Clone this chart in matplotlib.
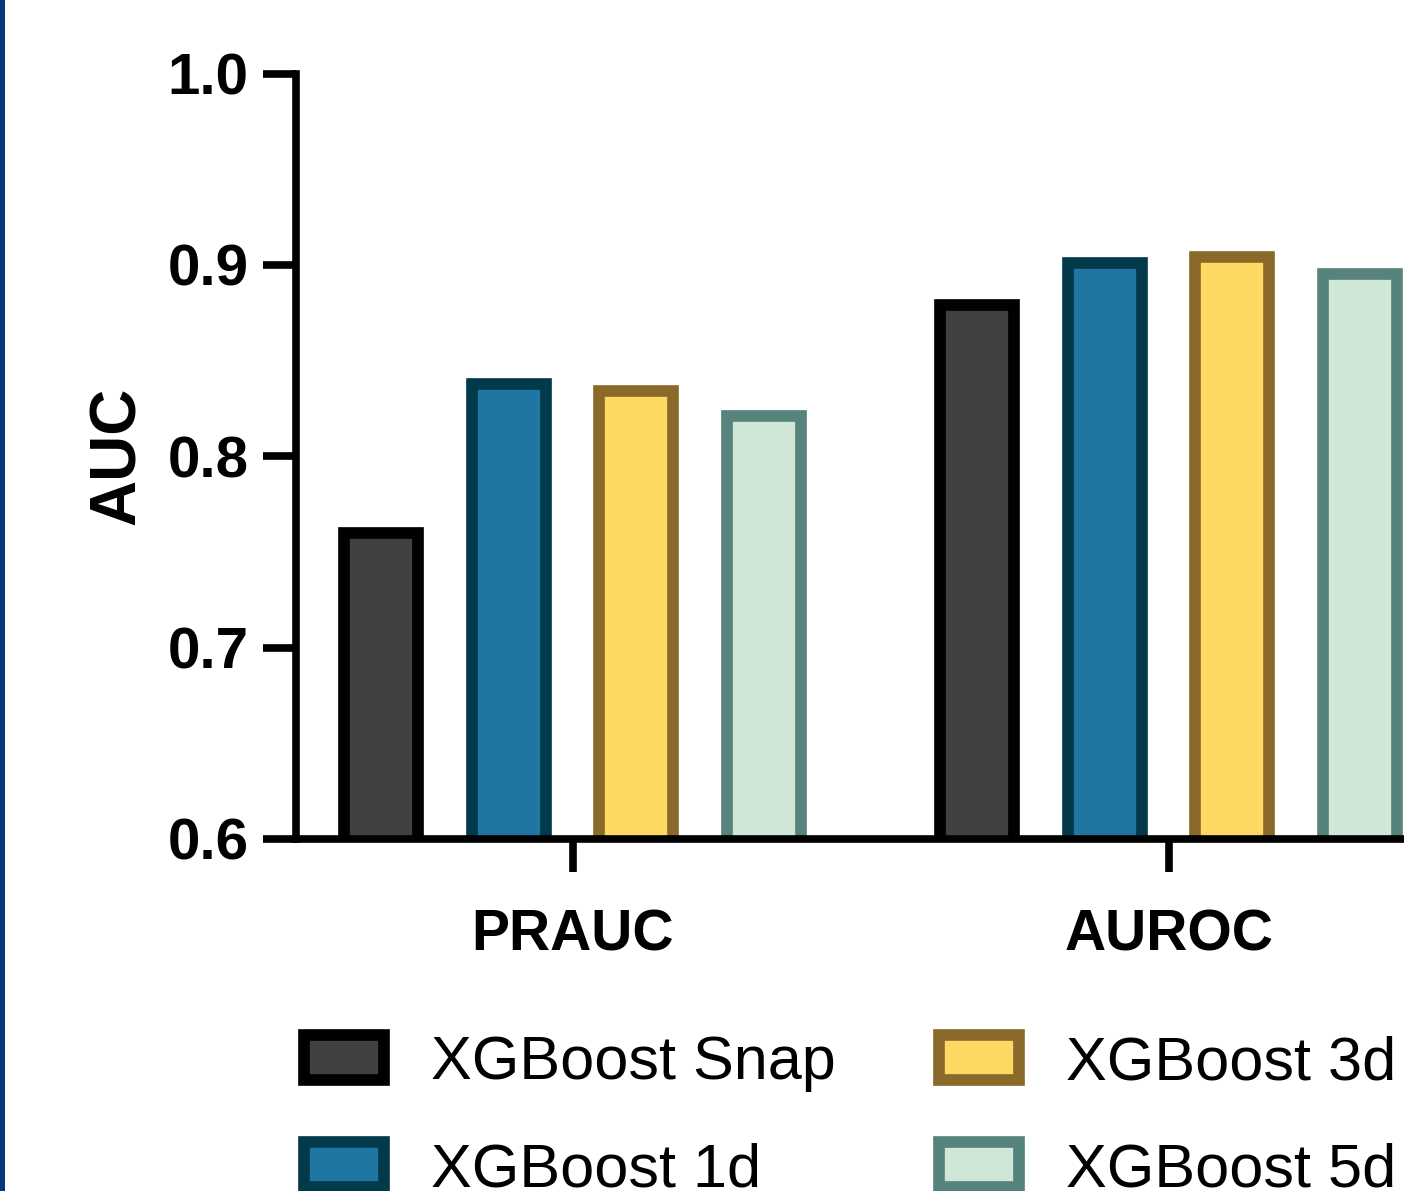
import numpy as np
import matplotlib
matplotlib.use('Agg')
import matplotlib.pyplot as plt
from matplotlib.patches import Rectangle

# ========== Data ==========
metrics = ['PRAUC', 'AUROC']
models = ['XGBoost Snap', 'XGBoost 1d', 'XGBoost 3d', 'XGBoost 5d']
scores = {
    'XGBoost Snap': [0.760, 0.879],
    'XGBoost 1d': [0.838, 0.901],
    'XGBoost 3d': [0.834, 0.904],
    'XGBoost 5d': [0.821, 0.895],
}
y_ticks = [0.6, 0.7, 0.8, 0.9, 1.0]

fills = ['#404040', '#1f76a3', '#fdd862', '#d0e6d6']
edges = ['#000000', '#023a4c', '#8a6a2b', '#56837c']

plt.rcParams['font.family'] = ['Liberation Sans', 'DejaVu Sans']

W, H = 1404, 1191
fig = plt.figure(figsize=(W / 100, H / 100), dpi=100)
ax = fig.add_axes([296 / W, 1 - 839 / H, 1 - 296 / W, (839 - 73.5) / H])

# ========== Bars ==========
x = np.arange(len(metrics))
step = 0.214
bw = 0.124
for i, m in enumerate(models):
    ax.bar(x + (i - 1.5) * step, scores[m], width=bw, color=fills[i],
           edgecolor=edges[i], linewidth=8.4, label=m)

ax.set_xlim(-0.464, 1.395)
ax.set_ylim(0.6, 1.0)
ax.set_yticks(y_ticks)
ax.set_yticklabels([f'{v:.1f}' for v in y_ticks], fontsize=42, fontweight='bold')
ax.set_xticks(x)
ax.set_xticklabels(metrics, fontsize=41, fontweight='bold')
ax.set_ylabel('AUC', fontsize=46, fontweight='bold')
ax.yaxis.set_label_coords(-0.134, 0.5)

for s in ['top', 'right']:
    ax.spines[s].set_visible(False)
for s in ['left', 'bottom']:
    ax.spines[s].set_linewidth(5.5)
ax.tick_params(axis='both', length=24, width=5.5, direction='out', color='black')
ax.tick_params(axis='y', pad=10)
ax.tick_params(axis='x', pad=26)

# ========== Legend ==========
fig.legend(loc='upper left', bbox_to_anchor=(304 / W, 1 - 1035 / H), ncol=2,
           frameon=False, fontsize=44, handlelength=1.31, handleheight=0.757,
           handletextpad=0.77, columnspacing=1.69, labelspacing=0.82,
           borderpad=0, borderaxespad=0)

# thin blue border line at the left edge
fig.patches.append(Rectangle((0, 0), 5 / W, 1, transform=fig.transFigure,
                             facecolor='#08367f', edgecolor='none'))

fig.savefig('out.png', dpi=100)
